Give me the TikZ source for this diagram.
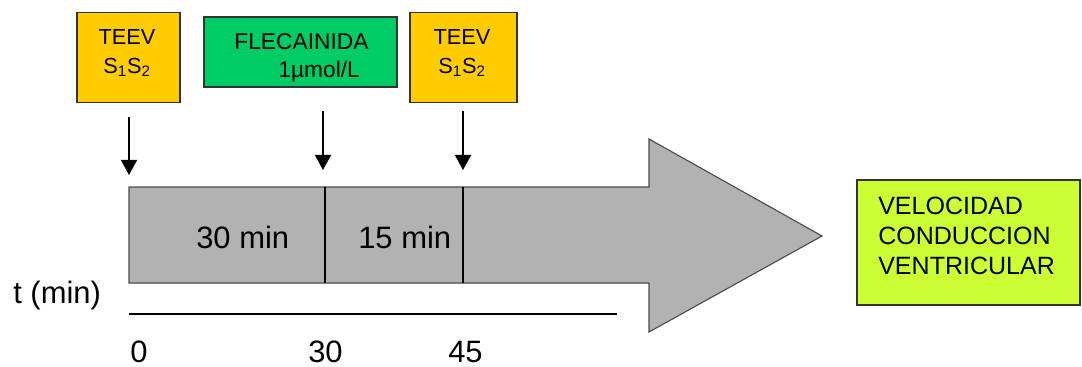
\documentclass[tikz,border=0pt]{standalone}
\usepackage{fontspec}
\setmainfont{Liberation Sans}
\usetikzlibrary{arrows.meta}
\definecolor{teevyellow}{HTML}{FFCC00}
\definecolor{flecgreen}{HTML}{00CC66}
\definecolor{vcvlime}{HTML}{CCFF33}
\definecolor{bodygray}{HTML}{B2B2B2}

\begin{document}
\begin{tikzpicture}[x=0.025cm, y=-0.025cm,
  box/.style={draw=black!80, line width=0.8pt, inner sep=0pt},
  teev/.style={box, fill=teevyellow, minimum height=2.24cm},
  boxtext/.style={inner sep=0pt, align=center, font=\fontsize{15.5}{20.5}\selectfont},
  big/.style={font=\fontsize{22}{26}\selectfont, inner sep=0pt},
  down/.style={-{Triangle[length=0.375cm, width=0.4cm]}, line width=1pt}]
\useasboundingbox (0,0) rectangle (1082,367);
% boxes on top
\node[teev, minimum width=2.575cm] (teev1) at (128.5,57.75) {};
\node[boxtext] (teev1txt) at (127,53) {TEEV\\S\textsubscript{1}S\textsubscript{2}};
\node[box, fill=flecgreen, minimum width=4.825cm, minimum height=1.75cm] (flec) at (300.5,52) {};
\node[boxtext, align=left, font=\fontsize{16.2}{19.5}\selectfont] (flectxt) at (301.5,58)
  {FLECAINIDA\\\hspace*{1.1cm}1µmol/L};
\node[teev, minimum width=2.675cm] (teev2) at (463.5,57.75) {};
\node[boxtext] (teev2txt) at (462,53) {TEEV\\S\textsubscript{1}S\textsubscript{2}};
% arrows down
\coordinate (s0) at (129,117); \coordinate (e0) at (129,175);
\coordinate (s30) at (323,111); \coordinate (e30) at (323,170);
\coordinate (s45) at (463,111); \coordinate (e45) at (463,170);
\draw[down] (s0) -- (e0);
\draw[down] (s30) -- (e30);
\draw[down] (s45) -- (e45);
% big arrow
\draw[draw=black!70, line width=0.8pt, fill=bodygray]
  (129,187) -- (649,187) -- (649,139) -- (822,236) -- (649,332) -- (649,283) -- (129,283) -- cycle;
\draw[line width=0.8pt] (325,187) -- (325,283) (463,187) -- (463,283);
\node[big, anchor=base west] (d30) at (196,248) {30 min};
\node[big, anchor=base west] (d15) at (358,248) {15 min};
% time axis
\draw[line width=0.8pt] (129,314) -- (617,314);
\node[big, anchor=base west] (tmin) at (13,303) {t (min)};
\node[big, anchor=base west] (t0) at (130,362) {0};
\node[big, anchor=base west] (t30) at (308,362) {30};
\node[big, anchor=base west] (t45) at (448,362) {45};
% result
\node[box, fill=vcvlime, minimum width=5.575cm, minimum height=3.125cm] (vcv) at (968.5,242.5) {};
\node[anchor=north west, inner sep=0pt, align=left, font=\fontsize{17.8}{21.3}\selectfont]
  (vcvtxt) at (878,197) {VELOCIDAD\\CONDUCCION\\VENTRICULAR};
\end{tikzpicture}
\end{document}
